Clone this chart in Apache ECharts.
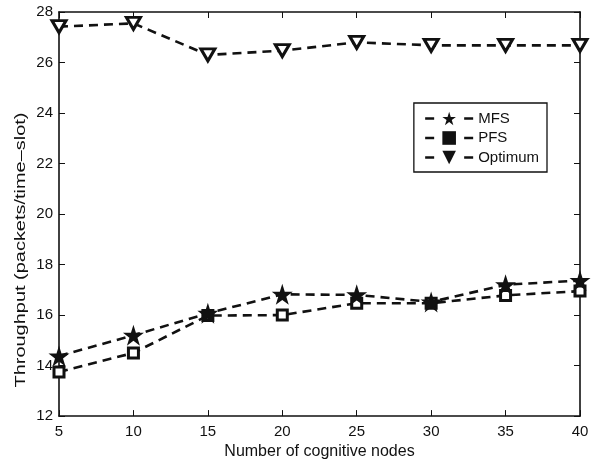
<!DOCTYPE html>
<html><head><meta charset="utf-8">
<script src="https://cdn.jsdelivr.net/npm/echarts@6/dist/echarts.min.js"></script>
<style>html,body{margin:0;padding:0;background:#fff}#c{width:597px;height:465px}</style>
</head><body><div id="c"></div>
<script>
const xValues = [5, 10, 15, 20, 25, 30, 35, 40];
const mfs = [14.38, 15.2, 16.07, 16.82, 16.8, 16.52, 17.2, 17.37];
const pfs = [13.75, 14.5, 15.98, 16.0, 16.47, 16.47, 16.78, 16.95];
const optimum = [27.42, 27.55, 26.3, 26.47, 26.8, 26.68, 26.68, 26.68];
const seriesNames = ['MFS', 'PFS', 'Optimum'];
const xTitle = 'Number of cognitive nodes';
const yTitle = 'Throughput (packets/time\u2013slot)';

const starPath = 'path://M50,0 L61.8,36.2 L100,36.2 L69.1,58.8 L80.9,95.1 L50,72.7 L19.1,95.1 L30.9,58.8 L0,36.2 L38.2,36.2 Z';
const triPath = 'path://M0,0 L100,0 L50,90 Z';
const font = 'Liberation Sans, Arial, sans-serif';
const pair = arr => xValues.map((x, i) => [x, arr[i]]);
const lineStyle = {color: '#111', width: 2.6, type: [9, 6]};

const chart = echarts.init(document.getElementById('c'));
const axisCommon = {
  axisLine: {show: true, onZero: false, lineStyle: {color: '#111', width: 1.6}},
  axisTick: {show: true, inside: true, length: 6, lineStyle: {color: '#111', width: 1}},
  splitLine: {show: false}
};
chart.setOption({
  animation: false,
  grid: {left: 59, right: 17, top: 12, bottom: 42},
  legend: {
    orient: 'vertical', right: 50, top: 103, itemWidth: 48, itemHeight: 17, itemGap: 4.5,
    backgroundColor: '#fff', borderColor: '#111', borderWidth: 1.3, padding: [8, 8, 7, 10],
    textStyle: {fontFamily: font, fontSize: 15, color: '#111'},
    lineStyle: {type: [9, 30], width: 2.6, color: '#111'},
    data: [
      {name: 'MFS', itemStyle: {color: '#111', borderWidth: 0}},
      {name: 'PFS', itemStyle: {color: '#111', borderWidth: 0}},
      {name: 'Optimum', itemStyle: {color: '#111', borderWidth: 0}}
    ]
  },
  graphic: [{
    type: 'text', x: 21, y: 250, rotation: Math.PI / 2, scaleX: 1.33,
    style: {text: yTitle, fontFamily: font, fontSize: 15, fill: '#111', align: 'center', verticalAlign: 'middle'}
  }],
  xAxis: [
    Object.assign({type: 'value', min: 5, max: 40, interval: 5, position: 'bottom',
      name: xTitle, nameLocation: 'middle', nameGap: 25,
      nameTextStyle: {fontFamily: font, fontSize: 16, color: '#111'},
      axisLabel: {fontFamily: font, fontSize: 15, color: '#111', margin: 8}}, axisCommon),
    Object.assign({type: 'value', min: 5, max: 40, interval: 5, position: 'top',
      axisLabel: {show: false}}, axisCommon)
  ],
  yAxis: [
    Object.assign({type: 'value', min: 12, max: 28, interval: 2, position: 'left',
      axisLabel: {fontFamily: font, fontSize: 15, color: '#111', margin: 6}}, axisCommon),
    Object.assign({type: 'value', min: 12, max: 28, interval: 2, position: 'right',
      axisLabel: {show: false}}, axisCommon)
  ],
  series: [
    {name: seriesNames[0], type: 'line', data: pair(mfs), symbol: starPath, symbolSize: 21,
      lineStyle: lineStyle, itemStyle: {color: '#111', borderWidth: 0}, z: 3},
    {name: seriesNames[1], type: 'line', data: pair(pfs), symbol: 'rect', symbolSize: 10,
      lineStyle: lineStyle, itemStyle: {color: '#fff', borderColor: '#111', borderWidth: 3}, z: 2},
    {name: seriesNames[2], type: 'line', data: pair(optimum), symbol: triPath, symbolSize: [14, 12],
      lineStyle: lineStyle, itemStyle: {color: '#fff', borderColor: '#111', borderWidth: 3}, z: 2}
  ]
});
</script></body></html>
